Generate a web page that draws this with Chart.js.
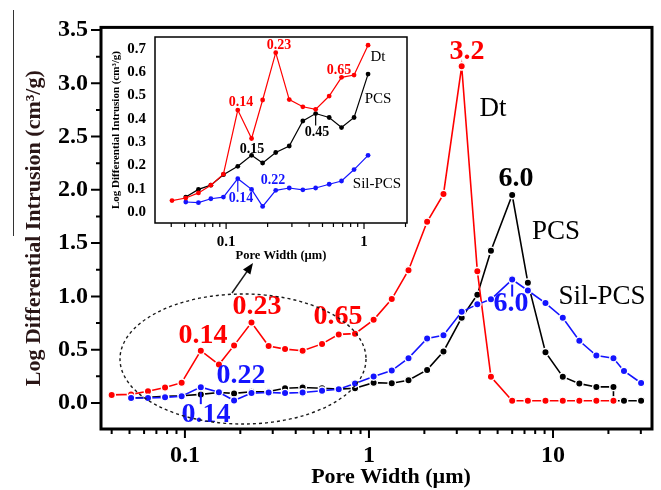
<!DOCTYPE html>
<html>
<head>
<meta charset="utf-8">
<script src="https://cdn.jsdelivr.net/npm/chart.js@4.4.1/dist/chart.umd.min.js"></script>
<style>
html, body { margin: 0; padding: 0; background: #fff; }
#wrap { position: relative; width: 661px; height: 490px; }
canvas { position: absolute; left: 0; top: 0; }
</style>
</head>
<body>
<div id="wrap">
  <canvas id="main" width="661" height="490"></canvas>
  <canvas id="inset" width="661" height="490"></canvas>
</div>
<script>
// main chart data (pore width in µm, log differential intrusion in cm3/g)
const dtWidth  = [0.040, 0.051, 0.063, 0.078, 0.096, 0.122, 0.153, 0.185, 0.23, 0.285, 0.35, 0.436, 0.556, 0.685, 0.84, 1.06, 1.33, 1.64, 2.07, 2.54, 3.19, 3.88, 4.6, 6.0, 7.3, 9.1, 11.3, 13.9, 17.2, 21.3];
const dtValues = [0.075, 0.08, 0.11, 0.145, 0.19, 0.49, 0.36, 0.54, 0.754, 0.535, 0.505, 0.49, 0.554, 0.643, 0.65, 0.78, 0.975, 1.245, 1.70, 1.96, 3.16, 1.237, 0.245, 0.02, 0.02, 0.02, 0.02, 0.02, 0.02, 0.02];

const pcsWidth  = [0.051, 0.063, 0.078, 0.096, 0.122, 0.153, 0.185, 0.23, 0.285, 0.35, 0.436, 0.556, 0.685, 0.84, 1.06, 1.33, 1.64, 2.07, 2.54, 3.19, 3.88, 4.6, 6.0, 7.3, 9.1, 11.3, 13.9, 17.2, 21.3, 21.3, 24.3, 30.1];
const pcsValues = [0.046, 0.052, 0.061, 0.067, 0.08, 0.098, 0.089, 0.104, 0.107, 0.138, 0.144, 0.138, 0.129, 0.138, 0.19, 0.185, 0.212, 0.31, 0.483, 0.80, 1.016, 1.428, 1.951, 1.129, 0.476, 0.246, 0.181, 0.15, 0.15, 0.02, 0.02, 0.02];

const silWidth  = [0.051, 0.063, 0.078, 0.096, 0.122, 0.153, 0.185, 0.23, 0.285, 0.35, 0.436, 0.556, 0.685, 0.84, 1.06, 1.33, 1.64, 2.07, 2.54, 3.19, 3.88, 4.6, 6.0, 7.3, 9.1, 11.3, 13.9, 17.2, 21.3, 24.3, 30.1];
const silValues = [0.046, 0.046, 0.052, 0.062, 0.148, 0.10, 0.022, 0.092, 0.098, 0.092, 0.098, 0.114, 0.129, 0.182, 0.248, 0.303, 0.42, 0.605, 0.635, 0.855, 0.925, 0.972, 1.158, 1.055, 0.937, 0.80, 0.583, 0.445, 0.42, 0.30, 0.187];

// inset data (0.04 - 1 µm zoom)
const insetWidth = [0.0405, 0.051, 0.063, 0.0775, 0.0956, 0.1215, 0.153, 0.184, 0.229, 0.287, 0.36, 0.446, 0.559, 0.687, 0.847, 1.07];
const insetDt  = [0.049, 0.06, 0.082, 0.115, 0.162, 0.437, 0.315, 0.48, 0.683, 0.482, 0.451, 0.44, 0.497, 0.577, 0.587, 0.715];
const insetPcs = [null, 0.064, 0.097, 0.115, 0.16, 0.196, 0.243, 0.21, 0.255, 0.283, 0.39, 0.422, 0.405, 0.362, 0.405, 0.591];
const insetSil = [null, 0.043, 0.040, 0.057, 0.064, 0.143, 0.097, 0.024, 0.093, 0.103, 0.095, 0.103, 0.119, 0.133, 0.182, 0.243];

// ticks
const mainXTicks = [0.04, 0.05, 0.06, 0.07, 0.08, 0.09, 0.1, 0.2, 0.3, 0.4, 0.5, 0.6, 0.7, 0.8, 0.9, 1, 2, 3, 4, 5, 6, 7, 8, 9, 10, 20, 30];
const mainXLabels = [0.1, 1, 10];
const mainYTicks = [0, 0.5, 1.0, 1.5, 2.0, 2.5, 3.0, 3.5];
const mainYMinor = [0.25, 0.75, 1.25, 1.75, 2.25, 2.75, 3.25];
const insetXTicks = [0.04, 0.05, 0.06, 0.07, 0.08, 0.09, 0.1, 0.2, 0.3, 0.4, 0.5, 0.6, 0.7, 0.8, 0.9, 1, 2];
const insetXLabels = [0.1, 1];
const insetYTicks = [0, 0.1, 0.2, 0.3, 0.4, 0.5, 0.6, 0.7];

const RED = '#ff0000', BLACK = '#000000', BLUE = '#1414ff';
const SERIF = "'Liberation Serif', 'Times New Roman', serif";
Chart.defaults.font.family = SERIF;
Chart.defaults.color = '#000';

function pts(xs, ys) {
  return xs.map((x, i) => ({ x: x, y: ys[i] }));
}

function mainSet(label, xs, ys, color) {
  return {
    label: label, data: pts(xs, ys),
    borderColor: color, backgroundColor: color,
    borderWidth: 1.6, pointRadius: 3.7, pointBorderWidth: 1.4,
    pointBorderColor: '#fff', pointBackgroundColor: color, tension: 0
  };
}

function insetSet(label, ys, color) {
  return {
    label: label, data: pts(insetWidth, ys),
    borderColor: color, backgroundColor: color,
    borderWidth: 1.2, pointRadius: 2.4, pointBorderWidth: 0, tension: 0
  };
}

// frame + tick marks drawn through the scales
const frameTicks = {
  id: 'frameTicks',
  afterDraw(chart, args, o) {
    const { ctx, chartArea: a, scales: { x, y } } = chart;
    ctx.save();
    ctx.strokeStyle = '#000';
    ctx.lineWidth = o.tickWidth;
    ctx.beginPath();
    o.xTicks.forEach(v => {
      const px = x.getPixelForValue(v);
      const len = o.xMajor.includes(v) ? o.xMajorLen : o.minorLen;
      ctx.moveTo(px, a.bottom);
      ctx.lineTo(px, a.bottom + len);
    });
    o.yTicks.forEach(v => {
      const py = y.getPixelForValue(v);
      ctx.moveTo(a.left, py);
      ctx.lineTo(a.left - o.yMajorLen, py);
    });
    o.yMinor.forEach(v => {
      const py = y.getPixelForValue(v);
      ctx.moveTo(a.left, py);
      ctx.lineTo(a.left - o.minorLen, py);
    });
    ctx.stroke();
    ctx.lineWidth = o.frame;
    ctx.strokeRect(a.left, a.top, a.right - a.left, a.bottom - a.top);
    ctx.restore();
  }
};

const notes = {
  id: 'notes',
  afterDraw(chart, args, o) {
    const ctx = chart.ctx;
    const { x, y } = chart.scales;
    ctx.save();
    ctx.textAlign = 'center';
    ctx.textBaseline = 'middle';
    o.texts.forEach(t => {
      ctx.fillStyle = t[3];
      ctx.font = t[4] + ' ' + SERIF;
      ctx.fillText(t[0], t[1], t[2]);
    });
    // small pointer lines under labelled points
    o.pins.forEach(p => {
      const px = x.getPixelForValue(p[0]);
      const py = y.getPixelForValue(p[1]);
      ctx.strokeStyle = p[4];
      ctx.lineWidth = p[5];
      ctx.beginPath();
      ctx.moveTo(px, py + p[2]);
      ctx.lineTo(px, py + p[3]);
      ctx.stroke();
    });
    if (o.extra) o.extra(ctx);
    ctx.restore();
  }
};

function mainExtra(ctx) {
  // dashed ellipse
  ctx.strokeStyle = '#1a1a1a';
  ctx.lineWidth = 1.4;
  ctx.setLineDash([3, 3]);
  ctx.beginPath();
  ctx.ellipse(243, 359, 123, 65, 0, 0, Math.PI * 2);
  ctx.stroke();
  ctx.setLineDash([]);
  // arrow to the inset
  const x0 = 232, y0 = 293, x1 = 253, y1 = 263;
  const ang = Math.atan2(y1 - y0, x1 - x0);
  ctx.lineWidth = 1.5;
  ctx.beginPath();
  ctx.moveTo(x0, y0);
  ctx.lineTo(x1 - 6 * Math.cos(ang), y1 - 6 * Math.sin(ang));
  ctx.stroke();
  ctx.fillStyle = '#000';
  ctx.beginPath();
  ctx.moveTo(x1, y1);
  ctx.lineTo(x1 - 11 * Math.cos(ang) + 4.5 * Math.sin(ang), y1 - 11 * Math.sin(ang) - 4.5 * Math.cos(ang));
  ctx.lineTo(x1 - 11 * Math.cos(ang) - 4.5 * Math.sin(ang), y1 - 11 * Math.sin(ang) + 4.5 * Math.cos(ang));
  ctx.closePath();
  ctx.fill();
  // x axis title
  ctx.fillStyle = '#000';
  ctx.font = 'bold 22px ' + SERIF;
  ctx.fillText('Pore Width (\u00b5m)', 391, 477);
  // stray rule at the far left
  ctx.strokeStyle = '#333';
  ctx.lineWidth = 1;
  ctx.beginPath();
  ctx.moveTo(13.5, 10);
  ctx.lineTo(13.5, 236);
  ctx.stroke();
}

new Chart(document.getElementById('main'), {
  type: 'line',
  data: {
    datasets: [
      mainSet('Sil-PCS', silWidth, silValues, BLUE),
      mainSet('Dt', dtWidth, dtValues, RED),
      mainSet('PCS', pcsWidth, pcsValues, BLACK)
    ]
  },
  options: {
    responsive: false,
    animation: false,
    events: [],
    layout: { padding: { left: 0, top: 22, right: 9, bottom: 0 } },
    scales: {
      x: {
        type: 'logarithmic', min: 0.035, max: 34.5,
        afterBuildTicks: s => { s.ticks = mainXTicks.map(v => ({ value: v })); },
        afterFit: s => { s.height = 61; },
        grid: { display: false, drawTicks: false },
        border: { display: false },
        ticks: {
          autoSkip: false, maxRotation: 0, padding: 12,
          font: { size: 24, weight: 'bold' },
          callback: v => mainXLabels.includes(v) ? String(v) : ''
        }
      },
      y: {
        min: -0.245, max: 3.525,
        afterBuildTicks: s => { s.ticks = mainYTicks.map(v => ({ value: v })); },
        afterFit: s => { s.width = 101; },
        grid: { display: false, drawTicks: false },
        border: { display: false },
        ticks: {
          padding: 13,
          font: { size: 24, weight: 'bold' },
          callback: v => Number(v).toFixed(1)
        },
        title: {
          display: true,
          text: 'Log Differential Intrusion (cm\u00b3/g)',
          color: '#2a1616',
          font: { size: 22, weight: 'bold' },
          padding: { top: 21, bottom: 0 }
        }
      }
    },
    plugins: {
      legend: { display: false },
      tooltip: { enabled: false },
      frameTicks: {
        xTicks: mainXTicks, xMajor: mainXLabels,
        yTicks: mainYTicks, yMinor: mainYMinor,
        xMajorLen: 9, yMajorLen: 10, minorLen: 5, tickWidth: 2, frame: 3
      },
      notes: {
        texts: [
          ['3.2', 467, 52, RED, 'bold 28px'],
          ['Dt', 493, 109, BLACK, '27px'],
          ['6.0', 516, 179, BLACK, 'bold 28px'],
          ['PCS', 556, 232, BLACK, '27px'],
          ['Sil-PCS', 602, 297, BLACK, '27px'],
          ['6.0', 511, 304, BLUE, 'bold 28px'],
          ['0.23', 257, 307, RED, 'bold 28px'],
          ['0.14', 203, 336, RED, 'bold 28px'],
          ['0.65', 338, 317, RED, 'bold 28px'],
          ['0.22', 241, 376, BLUE, 'bold 28px'],
          ['0.14', 206, 415, BLUE, 'bold 28px']
        ],
        pins: [
          [6.0, 1.158, 5, 17, BLUE, 2],
          [0.122, 0.148, 5, 17, BLUE, 2]
        ],
        extra: mainExtra
      }
    }
  },
  plugins: [frameTicks, notes]
});

new Chart(document.getElementById('inset'), {
  type: 'line',
  data: {
    datasets: [
      insetSet('Dt', insetDt, RED),
      insetSet('Sil-PCS', insetSil, BLUE),
      insetSet('PCS', insetPcs, BLACK)
    ]
  },
  options: {
    responsive: false,
    animation: false,
    events: [],
    layout: { padding: { left: 100, top: 37, right: 254, bottom: 224 } },
    scales: {
      x: {
        type: 'logarithmic', min: 0.0305, max: 2.05,
        afterBuildTicks: s => { s.ticks = insetXTicks.map(v => ({ value: v })); },
        afterFit: s => { s.height = 43; },
        grid: { display: false, drawTicks: false },
        border: { display: false },
        ticks: {
          autoSkip: false, maxRotation: 0, padding: 10,
          font: { size: 15, weight: 'bold' },
          callback: v => insetXLabels.includes(v) ? String(v) : ''
        },
        title: {
          display: true, text: 'Pore Width (\u00b5m)',
          font: { size: 12.5, weight: 'bold' },
          padding: { top: 0, bottom: 2.5 }
        }
      },
      y: {
        min: -0.047, max: 0.75,
        afterBuildTicks: s => { s.ticks = insetYTicks.map(v => ({ value: v })); },
        afterFit: s => { s.width = 55; },
        grid: { display: false, drawTicks: false },
        border: { display: false },
        ticks: {
          padding: 9,
          font: { size: 15, weight: 'bold' },
          callback: v => Number(v).toFixed(1)
        },
        title: {
          display: true, text: 'Log Differential Intrusion (cm\u00b3/g)',
          font: { size: 11, weight: 'bold' },
          padding: { top: 10, bottom: 0 }
        }
      }
    },
    plugins: {
      legend: { display: false },
      tooltip: { enabled: false },
      frameTicks: {
        xTicks: insetXTicks, xMajor: insetXLabels,
        yTicks: [], yMinor: [],
        xMajorLen: 6, yMajorLen: 0, minorLen: 4, tickWidth: 1.2, frame: 1.5
      },
      notes: {
        texts: [
          ['0.23', 279, 45, RED, 'bold 14px'],
          ['0.14', 241, 102, RED, 'bold 14px'],
          ['0.65', 339, 70, RED, 'bold 14px'],
          ['Dt', 378, 57, BLACK, '15px'],
          ['PCS', 378, 99, BLACK, '15px'],
          ['Sil-PCS', 377, 184, BLACK, '15px'],
          ['0.15', 252, 149, BLACK, 'bold 14px'],
          ['0.45', 317, 132, BLACK, 'bold 14px'],
          ['0.22', 273, 180, BLUE, 'bold 14px'],
          ['0.14', 241, 198, BLUE, 'bold 14px']
        ],
        pins: [
          [0.446, 0.422, 2, 12, BLACK, 1.2],
          [0.1215, 0.143, 2, 13, BLUE, 1.2]
        ]
      }
    }
  },
  plugins: [frameTicks, notes]
});
</script>
</body>
</html>
